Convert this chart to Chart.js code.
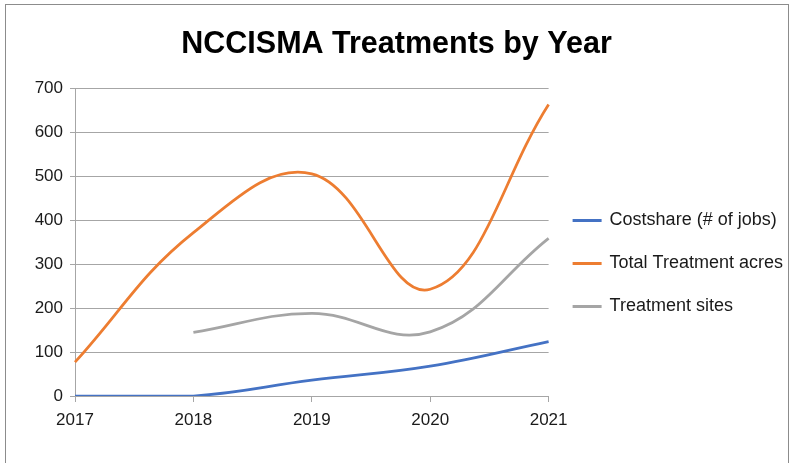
<!DOCTYPE html>
<html lang="en">
<head>
  <meta charset="UTF-8" />
  <title>NCCISMA Treatments by Year</title>
  <script src="https://cdn.jsdelivr.net/npm/chart.js"></script>
  <style>
    html, body { margin: 0; padding: 0; background: #fff; }
    #wrap { width: 793px; height: 463px; position: relative; }
  </style>
</head>
<body>
  <div id="wrap"><canvas id="chart"></canvas></div>

  <script>
    // data
    const years = ['2017', '2018', '2019', '2020', '2021'];
    const costshare = [0, 0, 36, 68, 124];
    const totalAcres = [77, 372, 506, 243, 664];
    const treatmentSites = [null, 145, 188, 146, 359];
    const yTicks = [0, 100, 200, 300, 400, 500, 600, 700];

    const fontFamily = '"Liberation Sans", Arial, sans-serif';

    // thin grey frame around the whole chart
    const framePlugin = {
      id: 'frame',
      beforeDraw(chart) {
        const ctx = chart.ctx;
        ctx.save();
        ctx.fillStyle = '#fff';
        ctx.fillRect(0, 0, chart.width, chart.height);
        ctx.strokeStyle = '#8c8c8c';
        ctx.lineWidth = 1;
        ctx.strokeRect(5.5, 4.5, 783, 470);
        ctx.restore();
      }
    };

    const ctx = document.getElementById('chart').getContext('2d');
    new Chart(ctx, {
      type: 'line',
      data: {
        labels: years,
        datasets: [
          {
            label: 'Costshare (# of jobs)',
            data: costshare,
            borderColor: '#4472c4',
            backgroundColor: '#4472c4',
            borderWidth: 2.75,
            tension: 0.4,
            pointRadius: 0
          },
          {
            label: 'Total Treatment acres',
            data: totalAcres,
            borderColor: '#ed7d31',
            backgroundColor: '#ed7d31',
            borderWidth: 2.75,
            tension: 0.4,
            pointRadius: 0
          },
          {
            label: 'Treatment sites',
            data: treatmentSites,
            borderColor: '#a5a5a5',
            backgroundColor: '#a5a5a5',
            borderWidth: 2.75,
            tension: 0.4,
            pointRadius: 0
          }
        ]
      },
      options: {
        responsive: true,
        maintainAspectRatio: false,
        animation: false,
        layout: { padding: { top: 4, right: 0, bottom: 0, left: 0 } },
        plugins: {
          title: {
            display: true,
            text: 'NCCISMA Treatments by Year',
            color: '#000',
            font: { family: fontFamily, size: 30.5, weight: 'bold', lineHeight: 1.2 },
            padding: { top: 22, bottom: 26 }
          },
          legend: {
            position: 'right',
            maxWidth: 300,
            // empty title only nudges the items down to where they sit in the original
            title: {
              display: true,
              text: '',
              font: { size: 10, lineHeight: 1 },
              padding: { top: 50, bottom: 0 }
            },
            labels: {
              color: '#1a1a1a',
              font: { family: fontFamily, size: 18 },
              boxWidth: 27,
              boxHeight: 1,
              padding: 25,
              generateLabels(chart) {
                const items = Chart.defaults.plugins.legend.labels.generateLabels(chart);
                items.forEach(it => { it.lineWidth = 2; });
                return items;
              }
            }
          },
          tooltip: { enabled: false }
        },
        scales: {
          x: {
            offset: false,
            afterFit(scale) { scale.height = 67; },
            grid: {
              display: true,
              drawOnChartArea: false,
              drawTicks: true,
              tickLength: 6,
              color: '#a6a6a6'
            },
            border: { color: '#a6a6a6', width: 1 },
            ticks: {
              color: '#1a1a1a',
              font: { family: fontFamily, size: 17 },
              maxRotation: 0,
              padding: 8
            }
          },
          y: {
            min: 0,
            max: 700,
            afterFit(scale) { scale.width = 75; },
            afterBuildTicks(scale) { scale.ticks = yTicks.map(v => ({ value: v })); },
            grid: {
              color: '#a6a6a6',
              tickLength: 5,
              drawTicks: true
            },
            border: { color: '#a6a6a6', width: 1 },
            ticks: {
              color: '#1a1a1a',
              font: { family: fontFamily, size: 17 },
              padding: 7
            }
          }
        }
      },
      plugins: [framePlugin]
    });
  </script>
</body>
</html>
